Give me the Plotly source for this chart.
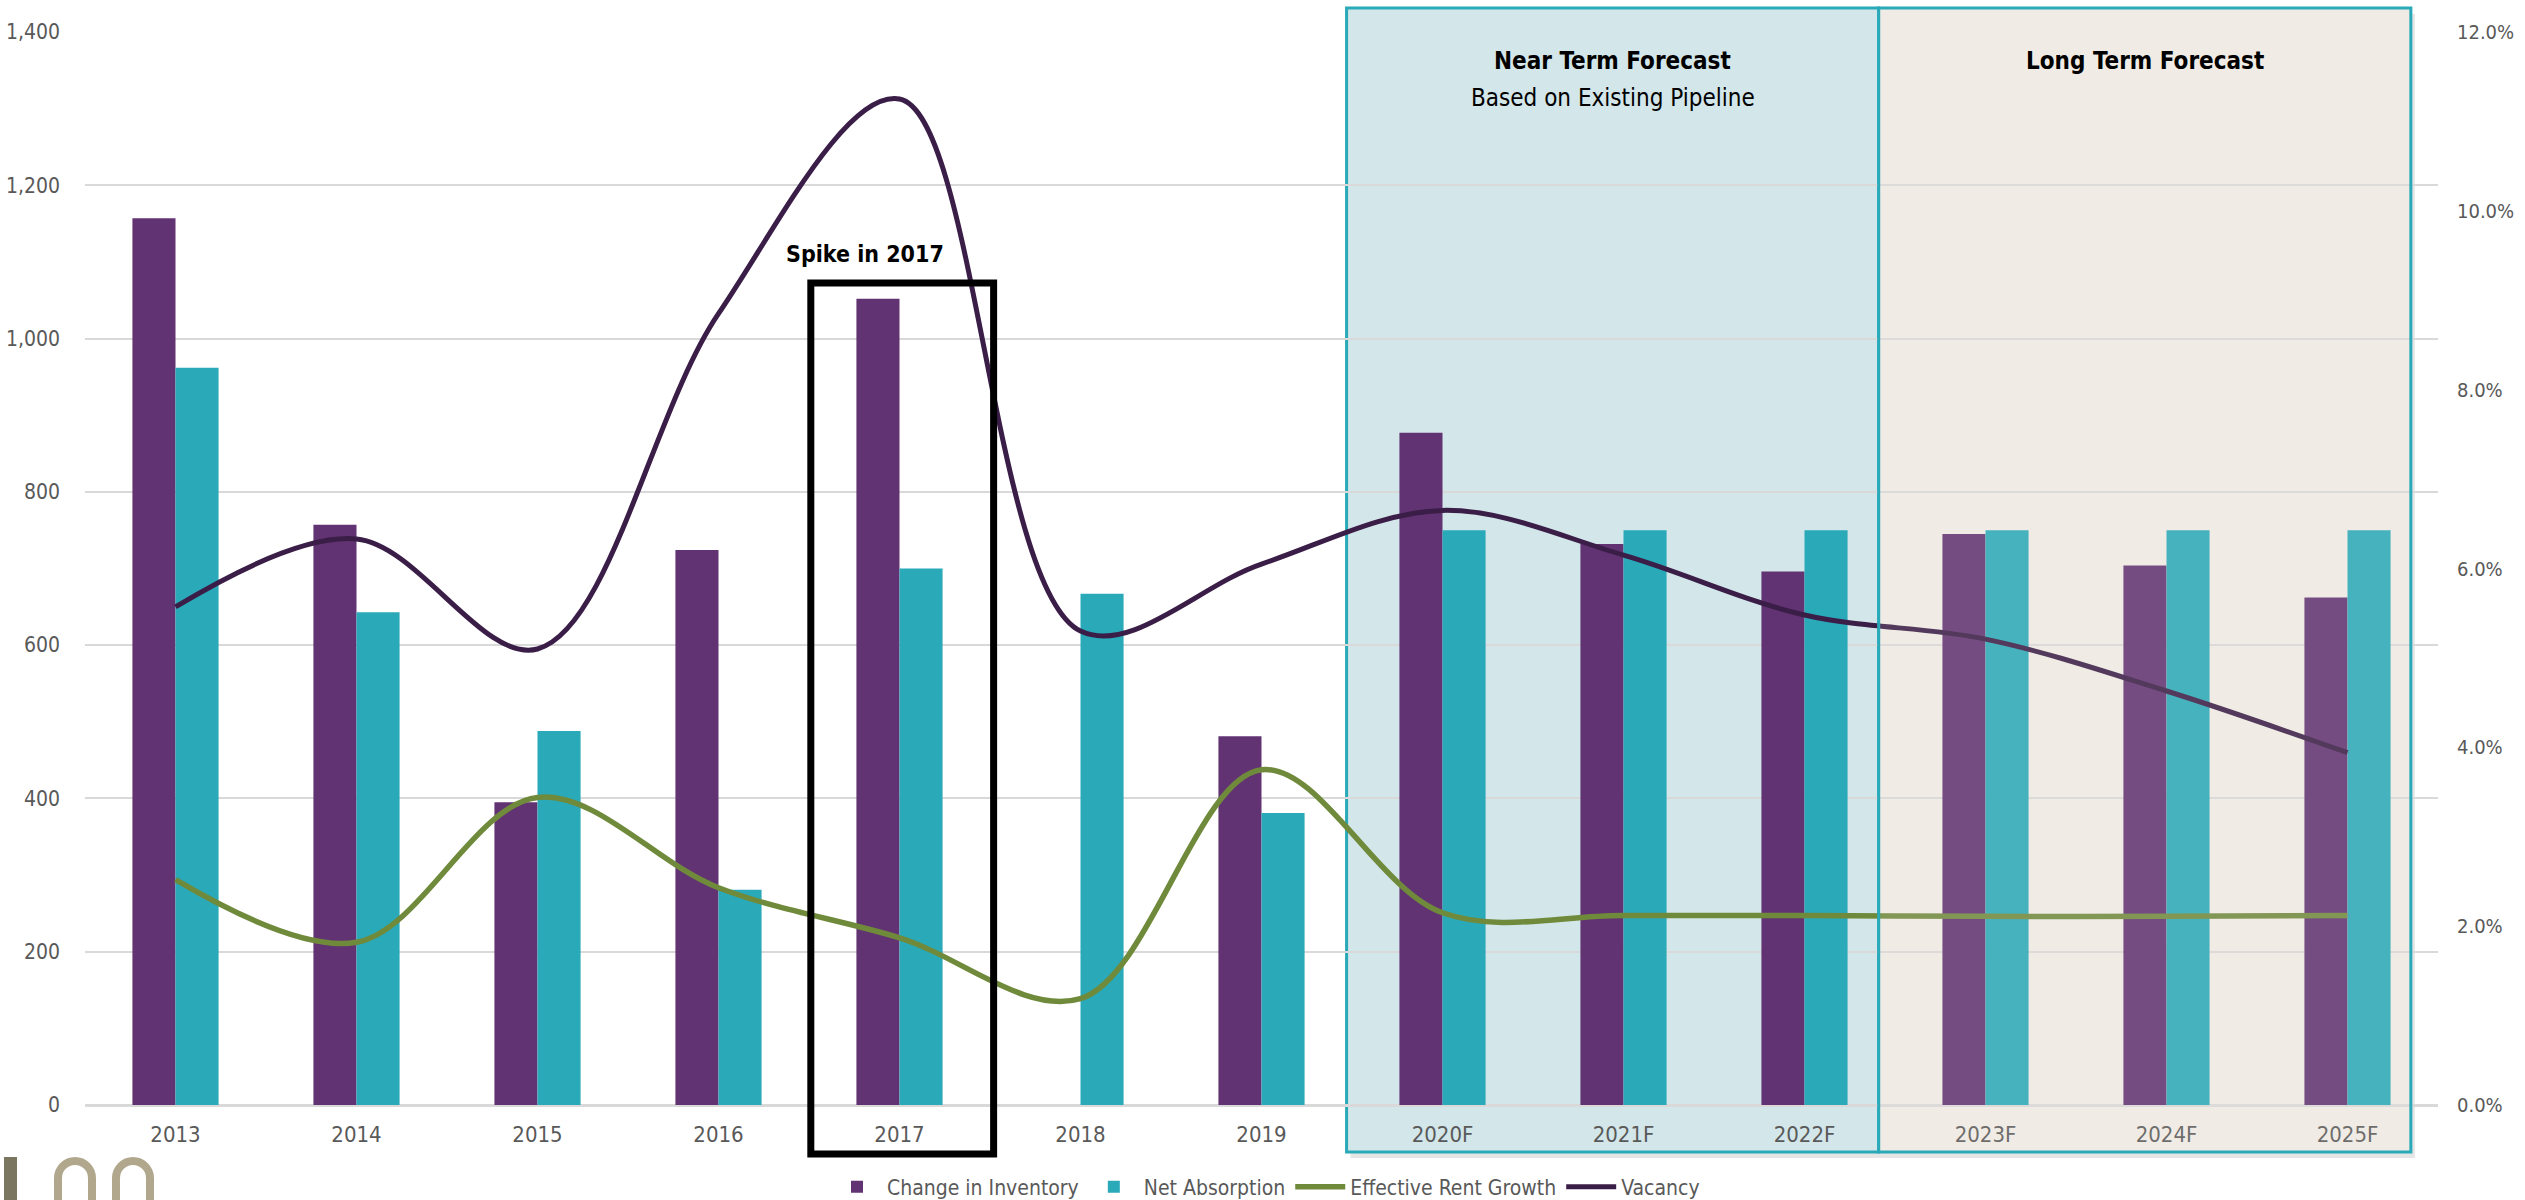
import plotly.graph_objects as go

# ---------------- data ----------------
years = ["2013", "2014", "2015", "2016", "2017", "2018", "2019",
         "2020F", "2021F", "2022F", "2023F", "2024F", "2025F"]
change_in_inventory = [1157, 757, 395, 724, 1052, None, 481, 877, 732, 696, 745, 704, 662]
net_absorption = [962, 643, 488, 281, 700, 667, 381, 750, 750, 750, 750, 750, 750]
effective_rent_growth = [2.52, 1.82, 3.44, 2.43, 1.87, 1.19, 3.75, 2.15, 2.12, 2.12, 2.11, 2.11, 2.12]
vacancy = [5.57, 6.33, 5.10, 8.85, 11.25, 5.30, 6.05, 6.65, 6.15, 5.48, 5.21, 4.63, 3.94]

left_ticks = [0, 200, 400, 600, 800, 1000, 1200, 1400]
left_labels = ["0", "200", "400", "600", "800", "1,000", "1,200", "1,400"]
right_ticks = [0, 2, 4, 6, 8, 10, 12]
right_labels = ["0.0%", "2.0%", "4.0%", "6.0%", "8.0%", "10.0%", "12.0%"]

# ---------------- style ----------------
NARROW = "Liberation Sans Narrow, Arial Narrow, DejaVu Sans Condensed, sans-serif"
PURPLE = "#613372"
TEAL = "#2aa9b9"
GREEN = "#708a3c"
DARK = "#3a1e48"
GREY_TXT = "#595959"
GRID = "#d9d9d9"
NEAR_FILL = "#d3e6e9"
LONG_FILL = "#f0ede6"
BOX_LINE = "#2aa9b8"

W, H = 2525, 1200
ML, MR, MT, MB = 85, 87, 32, 95
PW = W - ML - MR
PH = H - MT - MB
N = len(years)


def cx(c):
    """category position -> paper x"""
    return (c + 0.5) / N


def px(xpix):
    return (xpix - ML) / PW


def py(ypix):
    return (H - MB - ypix) / PH


fig = go.Figure()
fig.add_trace(go.Bar(x=years, y=change_in_inventory, name="Change in Inventory",
                     marker=dict(color=PURPLE, line=dict(width=0))))
fig.add_trace(go.Bar(x=years, y=net_absorption, name="Net Absorption",
                     marker=dict(color=TEAL, line=dict(width=0))))
fig.add_trace(go.Scatter(x=years, y=effective_rent_growth, name="Effective Rent Growth",
                         yaxis="y2", mode="lines",
                         line=dict(color=GREEN, width=5.5, shape="spline", smoothing=1.0)))
fig.add_trace(go.Scatter(x=years, y=vacancy, name="Vacancy", yaxis="y2", mode="lines",
                         line=dict(color=DARK, width=5, shape="spline", smoothing=1.0)))

shapes = []
near_l, near_r, long_r = 6.47, 9.41, 12.35
top_y, bot_y = py(8), py(1152)
# soft shadow
shapes.append(dict(type="rect", xref="paper", yref="paper", layer="below",
                   x0=cx(near_l) + px(ML + 4) - px(ML), x1=cx(long_r) + px(ML + 4) - px(ML),
                   y0=py(1158), y1=py(14), fillcolor="rgba(0,0,0,0.10)", line=dict(width=0)))
# near term box (below traces)
shapes.append(dict(type="rect", xref="paper", yref="paper", layer="below",
                   x0=cx(near_l), x1=cx(near_r), y0=bot_y, y1=top_y,
                   fillcolor=NEAR_FILL, line=dict(color=BOX_LINE, width=3)))
# long term box solid background (below)
shapes.append(dict(type="rect", xref="paper", yref="paper", layer="below",
                   x0=cx(near_r), x1=cx(long_r), y0=bot_y, y1=top_y,
                   fillcolor=LONG_FILL, line=dict(width=0)))
# long term translucent veil above traces
shapes.append(dict(type="rect", xref="paper", yref="paper", layer="above",
                   x0=cx(near_r), x1=cx(long_r), y0=bot_y, y1=top_y,
                   fillcolor="rgba(240,237,230,0.14)", line=dict(color=BOX_LINE, width=3)))
# spike box
shapes.append(dict(type="rect", xref="paper", yref="paper", layer="above",
                   x0=cx(3.51), x1=cx(4.52), y0=py(1154), y1=py(283),
                   fillcolor="rgba(0,0,0,0)", line=dict(color="#000000", width=7)))

# logo fragments bottom-left
shapes.append(dict(type="rect", xref="paper", yref="paper", layer="above",
                   x0=px(4), x1=px(17), y0=py(1215), y1=py(1157),
                   fillcolor="#7a7660", line=dict(width=0)))


def arch(cxp, r, ytop, ybot):
    k = 0.5523 * r
    yc = ytop + r
    pts = [
        ("M", [(cxp - r, ybot)]),
        ("L", [(cxp - r, yc)]),
        ("C", [(cxp - r, yc - k), (cxp - k, ytop), (cxp, ytop)]),
        ("C", [(cxp + k, ytop), (cxp + r, yc - k), (cxp + r, yc)]),
        ("L", [(cxp + r, ybot)]),
    ]
    s = ""
    for cmd, plist in pts:
        s += cmd + " " + " ".join(f"{px(a):.5f},{py(b):.5f}" for a, b in plist) + " "
    return s.strip()


for c in (75, 133):
    shapes.append(dict(type="path", xref="paper", yref="paper", layer="above",
                       path=arch(c, 17, 1161, 1215),
                       line=dict(color="#b1a78c", width=8)))

annotations = [
    dict(text="<b>Near Term Forecast</b>", x=(cx(near_l) + cx(near_r)) / 2, y=py(61),
         xref="paper", yref="paper", showarrow=False,
         font=dict(family=NARROW, size=24, color="#000000"), xanchor="center", yanchor="middle"),
    dict(text="Based on Existing Pipeline", x=(cx(near_l) + cx(near_r)) / 2, y=py(98),
         xref="paper", yref="paper", showarrow=False,
         font=dict(family=NARROW, size=24, color="#000000"), xanchor="center", yanchor="middle"),
    dict(text="<b>Long Term Forecast</b>", x=(cx(near_r) + cx(long_r)) / 2, y=py(61),
         xref="paper", yref="paper", showarrow=False,
         font=dict(family=NARROW, size=24, color="#000000"), xanchor="center", yanchor="middle"),
    dict(text="<b>Spike in 2017</b>", x=px(865), y=py(254),
         xref="paper", yref="paper", showarrow=False,
         font=dict(family=NARROW, size=23, color="#000000"), xanchor="center", yanchor="middle"),
]

fig.update_layout(
    width=W, height=H,
    margin=dict(l=ML, r=MR, t=MT, b=MB, pad=0, autoexpand=False),
    paper_bgcolor="#ffffff", plot_bgcolor="rgba(0,0,0,0)",
    barmode="group", bargap=0.524, bargroupgap=0,
    font=dict(family=NARROW, size=22, color=GREY_TXT),
    showlegend=True,
    legend=dict(orientation="h", x=px(1266), xanchor="center", y=py(1187), yanchor="middle",
                font=dict(family=NARROW, size=21, color=GREY_TXT),
                bgcolor="rgba(0,0,0,0)", itemwidth=50, tracegroupgap=0),
    xaxis=dict(type="category", categoryorder="array", categoryarray=years,
               range=[-0.5, N - 0.5], showgrid=False, showline=False, zeroline=False,
               automargin=False,
               ticks="", tickfont=dict(family=NARROW, size=22, color=GREY_TXT),
               ticklabelstandoff=14),
    yaxis=dict(range=[0, 1400], tickmode="array", tickvals=left_ticks, ticktext=left_labels,
               showgrid=True, gridcolor=GRID, gridwidth=2,
               zeroline=True, zerolinecolor=GRID, zerolinewidth=3,
               showline=False, ticks="", automargin=False,
               tickfont=dict(family=NARROW, size=21, color=GREY_TXT),
               ticklabelstandoff=24),
    yaxis2=dict(range=[0, 12], tickmode="array", tickvals=right_ticks, ticktext=right_labels,
                overlaying="y", side="right", showgrid=False, zeroline=False,
                showline=False, ticks="", automargin=False,
                tickfont=dict(family=NARROW, size=20, color=GREY_TXT),
                ticklabelstandoff=18),
    shapes=shapes,
    annotations=annotations,
)

fig.write_html("out.html")
